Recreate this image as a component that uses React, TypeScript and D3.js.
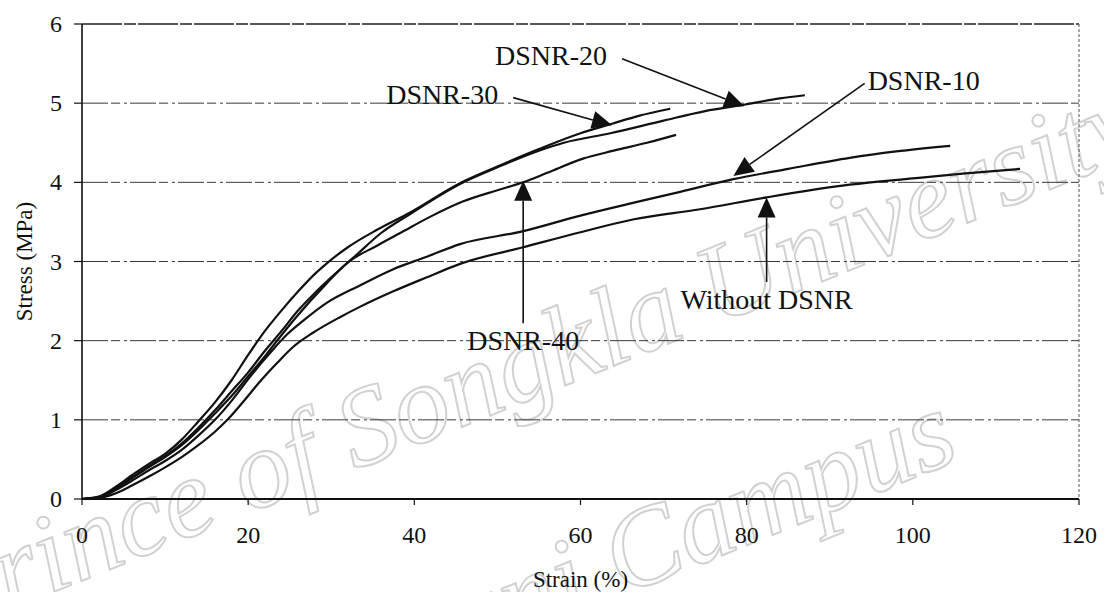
import React, { useEffect, useRef } from 'react';
import * as d3 from 'd3';

const W = 1104;
const H = 592;

// Stress–strain readings, strain in %, stress in MPa
const strainDSNR30 = [0, 2, 4, 6, 8, 10, 12, 14, 16, 18, 20, 22, 24, 26, 28, 29.5, 32, 35.5, 39.5, 45.5, 50, 55, 60, 63.8, 67, 70.8];
const stressDSNR30 = [0, 0.03, 0.15, 0.3, 0.44, 0.57, 0.75, 0.98, 1.22, 1.5, 1.82, 2.12, 2.38, 2.62, 2.84, 2.98, 3.18, 3.4, 3.62, 3.99, 4.2, 4.42, 4.62, 4.74, 4.84, 4.93];

const strainDSNR20 = [0, 2, 4, 6, 8, 10, 12, 14, 16, 18, 20, 22, 24, 26, 28, 30, 33, 36, 39.5, 45.5, 50, 55, 58, 63.6, 70, 75, 79.7, 84, 87];
const stressDSNR20 = [0, 0.02, 0.13, 0.27, 0.41, 0.54, 0.7, 0.9, 1.12, 1.36, 1.6, 1.87, 2.12, 2.38, 2.6, 2.8, 3.08, 3.36, 3.6, 3.98, 4.19, 4.4, 4.5, 4.62, 4.78, 4.9, 4.98, 5.06, 5.1];

const strainDSNR40 = [0, 2, 4, 6, 8, 10, 12, 14, 16, 18, 20, 22, 23.4, 25.8, 29.5, 31.9, 35.5, 38.3, 42, 45.9, 50, 53.1, 56, 60.3, 64, 68, 71.5];
const stressDSNR40 = [0, 0.02, 0.12, 0.26, 0.4, 0.53, 0.68, 0.87, 1.08, 1.3, 1.55, 1.8, 1.99, 2.3, 2.73, 2.98, 3.2, 3.36, 3.57, 3.76, 3.9, 4.0, 4.12, 4.3, 4.4, 4.5, 4.6];

const strainDSNR10 = [0, 2, 4, 6, 8, 10, 12, 14, 16, 18, 20.2, 22.6, 24.7, 26.6, 29.5, 33.5, 37.4, 41.5, 45.5, 53, 60, 66.3, 72, 78.4, 85, 92.4, 98, 104.5];
const stressDSNR10 = [0, 0.02, 0.11, 0.23, 0.36, 0.48, 0.62, 0.8, 1.0, 1.24, 1.54, 1.84, 2.08, 2.25, 2.48, 2.7, 2.9, 3.06, 3.22, 3.38, 3.58, 3.74, 3.88, 4.04, 4.17, 4.31, 4.39, 4.46];

const strainPlain = [0, 2, 4, 6, 8, 10, 12, 14, 16, 17.5, 19.5, 21.4, 23.5, 25.4, 27.8, 31.1, 33.5, 37.4, 41.5, 45.5, 53.1, 60, 66.3, 74.4, 82.4, 92.4, 100, 106, 112.9];
const stressPlain = [0, 0.01, 0.07, 0.17, 0.28, 0.4, 0.53, 0.68, 0.85, 1.0, 1.24, 1.48, 1.72, 1.92, 2.1, 2.3, 2.43, 2.62, 2.8, 2.97, 3.18, 3.37, 3.53, 3.66, 3.81, 3.97, 4.05, 4.11, 4.17];

const xTicks = [0, 20, 40, 60, 80, 100, 120];
const yTicks = [0, 1, 2, 3, 4, 5, 6];

// Callout arrows: label, tail (strain, stress) and tip (strain, stress)
const calloutLabels = ['DSNR-20', 'DSNR-30', 'DSNR-10', 'DSNR-40', 'Without DSNR'];
const calloutTail = [[65.0, 5.56], [51.9, 5.07], [94.2, 5.25], [53.1, 2.22], [82.4, 2.74]];
const calloutTip = [[79.7, 4.96], [63.8, 4.72], [78.4, 4.08], [53.1, 4.02], [82.4, 3.81]];

const SERIF = '"Liberation Serif", "Times New Roman", Times, serif';

export default function App() {
  const ref = useRef<SVGSVGElement>(null);

  useEffect(() => {
    const svg = d3.select(ref.current);
    svg.selectAll('*').remove();

    const x = d3.scaleLinear().domain([0, 120]).range([82, 1079]);
    const y = d3.scaleLinear().domain([0, 6]).range([499, 24]);

    svg.append('rect').attr('width', W).attr('height', H).attr('fill', '#fff');

    // institutional watermark, faint outlined lettering behind the plot
    const wm = svg.append('g')
      .attr('fill', 'none').attr('stroke', '#d2d2d2').attr('stroke-width', 2)
      .style('font-family', SERIF).style('font-style', 'italic').style('font-size', '112px');
    wm.append('text').attr('transform', 'translate(-55,636) rotate(-22)').text('Prince of Songkla University');
    wm.append('text').attr('transform', 'translate(290,730) rotate(-22)').text('Pattani Campus');

    // horizontal grid
    const grid = svg.append('g');
    yTicks.filter(v => v > 0 && v < 6).forEach(v => {
      grid.append('line')
        .attr('x1', x(0)).attr('x2', x(120))
        .attr('y1', y(v)).attr('y2', y(v))
        .attr('stroke', '#3a3a3a').attr('stroke-width', 1)
        .attr('stroke-dasharray', '26 3 9 4 3 3');
    });
    // top and right frame
    grid.append('line')
      .attr('x1', x(0)).attr('x2', x(120)).attr('y1', y(6)).attr('y2', y(6))
      .attr('stroke', '#222').attr('stroke-width', 1.3).attr('stroke-dasharray', '40 2 12 2');
    grid.append('line')
      .attr('x1', x(120)).attr('x2', x(120)).attr('y1', y(6)).attr('y2', y(0))
      .attr('stroke', '#555').attr('stroke-width', 1).attr('stroke-dasharray', '3 2');

    // axes
    svg.append('line')
      .attr('x1', x(0)).attr('x2', x(0)).attr('y1', y(6)).attr('y2', y(0))
      .attr('stroke', '#111').attr('stroke-width', 1.6);
    svg.append('line')
      .attr('x1', x(0)).attr('x2', x(120)).attr('y1', y(0)).attr('y2', y(0))
      .attr('stroke', '#111').attr('stroke-width', 2);

    const yAxisG = svg.append('g');
    yTicks.forEach(v => {
      yAxisG.append('line')
        .attr('x1', x(0) - 8).attr('x2', x(0)).attr('y1', y(v)).attr('y2', y(v))
        .attr('stroke', '#111').attr('stroke-width', 1.2);
      yAxisG.append('text')
        .attr('x', 62).attr('y', y(v)).attr('dy', '0.34em')
        .attr('text-anchor', 'end')
        .style('font-family', SERIF).style('font-size', '24px').attr('fill', '#111')
        .text(String(v));
    });
    const xAxisG = svg.append('g');
    xTicks.forEach(v => {
      xAxisG.append('line')
        .attr('x1', x(v)).attr('x2', x(v)).attr('y1', y(0)).attr('y2', y(0) + 6)
        .attr('stroke', '#111').attr('stroke-width', 1.2);
      xAxisG.append('text')
        .attr('x', x(v)).attr('y', 543)
        .attr('text-anchor', 'middle')
        .style('font-family', SERIF).style('font-size', '24px').attr('fill', '#111')
        .text(String(v));
    });

    svg.append('text')
      .attr('x', (x(0) + x(120)) / 2).attr('y', 587)
      .attr('text-anchor', 'middle')
      .style('font-family', SERIF).style('font-size', '23px').attr('fill', '#111')
      .text('Strain (%)');
    svg.append('text')
      .attr('transform', `translate(32, ${(y(0) + y(6)) / 2}) rotate(-90)`)
      .attr('text-anchor', 'middle')
      .style('font-family', SERIF).style('font-size', '23px').attr('fill', '#111')
      .text('Stress (MPa)');

    // curves
    const series = [
      { strain: strainDSNR30, stress: stressDSNR30 },
      { strain: strainDSNR20, stress: stressDSNR20 },
      { strain: strainDSNR40, stress: stressDSNR40 },
      { strain: strainDSNR10, stress: stressDSNR10 },
      { strain: strainPlain, stress: stressPlain },
    ];
    const line = d3.line<[number, number]>()
      .x(d => x(d[0])).y(d => y(d[1]))
      .curve(d3.curveMonotoneX);
    series.forEach(s => {
      const pts = s.strain.map((v, i) => [v, s.stress[i]] as [number, number]);
      svg.append('path')
        .attr('d', line(pts) || '')
        .attr('fill', 'none').attr('stroke', '#111').attr('stroke-width', 2.2)
        .attr('stroke-linejoin', 'round');
    });

    // callouts
    const ann = svg.append('g');
    calloutLabels.forEach((label, i) => {
      const tx = x(calloutTail[i][0]);
      const ty = y(calloutTail[i][1]);
      const px = x(calloutTip[i][0]);
      const py = y(calloutTip[i][1]);
      const dx = px - tx;
      const dy = py - ty;
      const len = Math.hypot(dx, dy);
      const ux = dx / len;
      const uy = dy / len;
      const hl = 20;
      const hw = 9;
      const bx = px - ux * hl;
      const by = py - uy * hl;
      ann.append('line')
        .attr('x1', tx).attr('y1', ty).attr('x2', bx).attr('y2', by)
        .attr('stroke', '#111').attr('stroke-width', 1.6);
      ann.append('path')
        .attr('d', `M${px},${py}L${bx - uy * hw},${by + ux * hw}L${bx + uy * hw},${by - ux * hw}Z`)
        .attr('fill', '#111');

      let lx = tx;
      let ly = ty;
      let anchor = 'middle';
      if (Math.abs(dx) < 1) {
        ly = ty + 27;
      } else if (dx > 0) {
        lx = tx - 15;
        ly = ty + 6;
        anchor = 'end';
      } else {
        lx = tx + 3;
        ly = ty + 7;
        anchor = 'start';
      }
      ann.append('text')
        .attr('x', lx).attr('y', ly)
        .attr('text-anchor', anchor)
        .style('font-family', SERIF).style('font-size', '28px').attr('fill', '#111')
        .text(label);
    });
  }, []);

  return (
    <svg
      ref={ref}
      width={W}
      height={H}
      style={{ position: 'absolute', left: 0, top: 0, display: 'block' }}
    />
  );
}
